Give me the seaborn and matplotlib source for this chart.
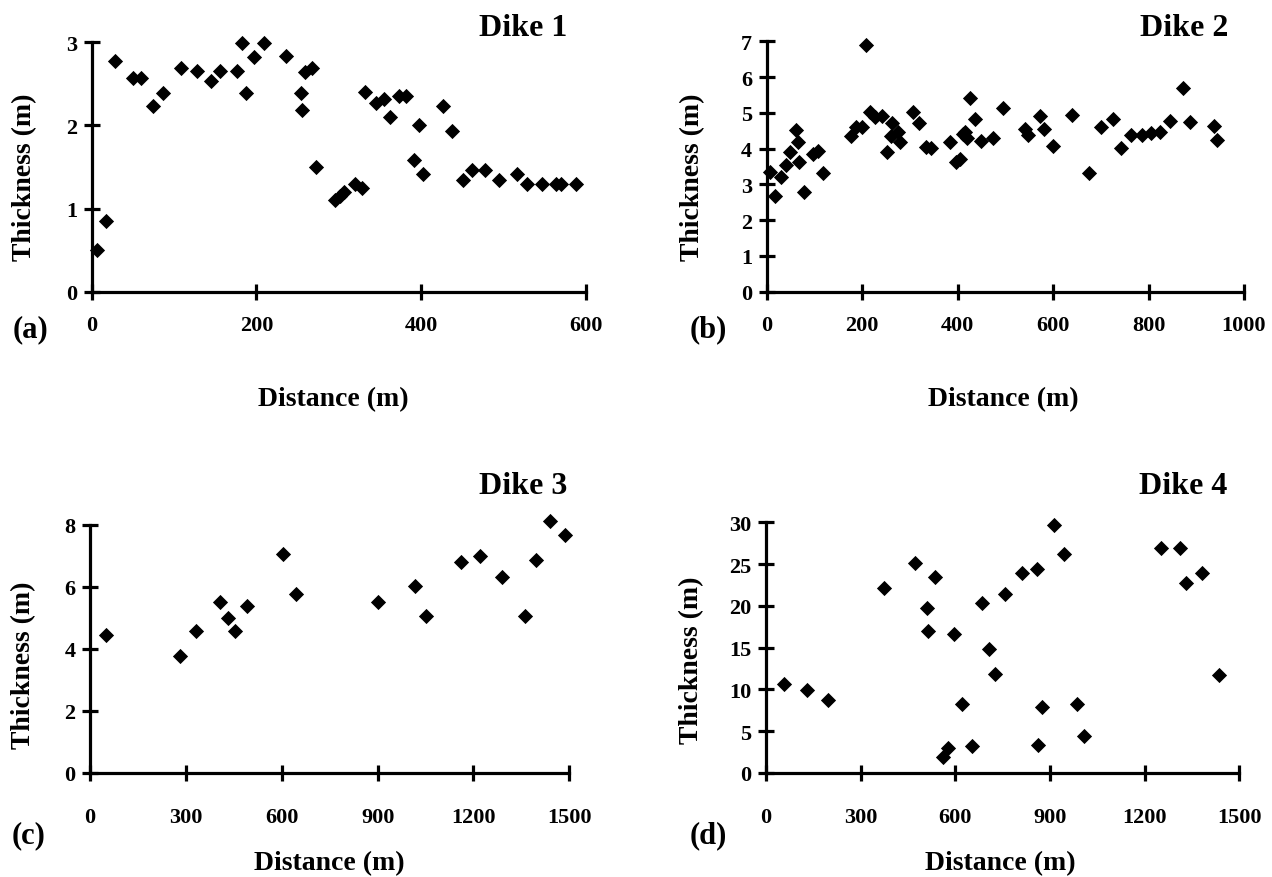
import matplotlib
matplotlib.use("Agg")
import matplotlib.pyplot as plt
import seaborn as sns
import pandas as pd

# ---------------- data ----------------
dike1_dist = [7, 18, 29, 50, 60, 75, 87, 109, 128, 145, 156, 177, 183, 187, 197, 209,
              236, 254, 256, 259, 267, 273, 296, 301, 306, 320, 328, 332, 345, 355,
              362, 373, 381, 391, 397, 402, 426, 437, 451, 462, 478, 494, 516, 528,
              547, 563, 570, 588]
dike1_thick = [0.50, 0.85, 2.78, 2.57, 2.57, 2.23, 2.39, 2.69, 2.65, 2.53, 2.65, 2.65,
               2.99, 2.39, 2.82, 2.99, 2.83, 2.39, 2.18, 2.64, 2.69, 1.50, 1.10, 1.15,
               1.20, 1.30, 1.25, 2.40, 2.27, 2.32, 2.10, 2.35, 2.35, 1.59, 2.01, 1.41,
               2.23, 1.93, 1.34, 1.46, 1.46, 1.34, 1.41, 1.29, 1.29, 1.29, 1.29, 1.29]

dike2_dist = [7, 17, 31, 40, 49, 61, 66, 68, 78, 96, 108, 117, 177, 187, 199, 207, 217,
              226, 241, 251, 260, 262, 276, 279, 307, 320, 334, 344, 384, 397, 405, 412,
              416, 419, 426, 437, 450, 475, 496, 541, 548, 573, 582, 599, 639, 676, 700,
              725, 742, 763, 786, 805, 823, 845, 872, 887, 937, 944]
dike2_thick = [3.35, 2.68, 3.20, 3.54, 3.91, 4.52, 4.18, 3.62, 2.80, 3.85, 3.94, 3.32,
               4.36, 4.60, 4.61, 6.90, 5.01, 4.87, 4.90, 3.91, 4.36, 4.73, 4.46, 4.18,
               5.01, 4.72, 4.04, 4.01, 4.18, 3.62, 3.70, 4.41, 4.46, 4.29, 5.42, 4.83,
               4.22, 4.29, 5.14, 4.55, 4.38, 4.90, 4.55, 4.08, 4.94, 3.32, 4.61, 4.83,
               4.02, 4.39, 4.39, 4.43, 4.47, 4.76, 5.69, 4.75, 4.62, 4.25]

dike3_dist = [50, 282, 332, 407, 431, 454, 490, 603, 645, 900, 1017, 1052, 1161, 1221,
              1289, 1362, 1396, 1440, 1487]
dike3_thick = [4.46, 3.78, 4.58, 5.52, 4.99, 4.56, 5.39, 7.06, 5.77, 5.50, 6.01, 5.07,
               6.81, 7.00, 6.30, 5.07, 6.87, 8.12, 7.68]

dike4_dist = [57, 129, 198, 374, 473, 509, 515, 536, 562, 578, 596, 622, 652, 684, 708,
              726, 758, 812, 858, 861, 874, 913, 945, 985, 1009, 1251, 1312, 1331, 1381,
              1436]
dike4_thick = [10.6, 9.9, 8.7, 22.1, 25.1, 19.7, 17.0, 23.4, 1.95, 2.96, 16.6, 8.3, 3.2,
               20.3, 14.8, 11.9, 21.4, 23.9, 24.4, 3.4, 7.9, 29.7, 26.2, 8.3, 4.4, 26.9,
               26.9, 22.7, 23.9, 11.7]

titles = ["Dike 1", "Dike 2", "Dike 3", "Dike 4"]
panel_tags = ["(a)", "(b)", "(c)", "(d)"]
x_ticks = [[0, 200, 400, 600], [0, 200, 400, 600, 800, 1000],
           [0, 300, 600, 900, 1200, 1500], [0, 300, 600, 900, 1200, 1500]]
y_ticks = [[0, 1, 2, 3], [0, 1, 2, 3, 4, 5, 6, 7], [0, 2, 4, 6, 8],
           [0, 5, 10, 15, 20, 25, 30]]
x_label = "Distance (m)"
y_label = "Thickness (m)"

# ---------------- style ----------------
sns.set_style("white")
plt.rcParams["font.family"] = ["Liberation Serif", "DejaVu Serif"]
plt.rcParams["font.weight"] = "bold"
plt.rcParams["axes.labelweight"] = "bold"
plt.rcParams["text.color"] = "black"
plt.rcParams["axes.labelcolor"] = "black"
plt.rcParams["xtick.color"] = "black"
plt.rcParams["ytick.color"] = "black"

W, H = 1272, 878
fig = plt.figure(figsize=(W / 100, H / 100), dpi=100)

# axes boxes in pixels: left, right, top, bottom
boxes = [(91.5, 586, 43.3, 292.7), (766.7, 1244, 42.3, 292.7),
         (90, 569.3, 525.7, 774), (766, 1239.3, 523.3, 774)]
data = [(dike1_dist, dike1_thick), (dike2_dist, dike2_thick),
        (dike3_dist, dike3_thick), (dike4_dist, dike4_thick)]
ylab_pos = [(25, 177), (693, 177), (24, 665), (692, 660)]
xlab_pos = [(333, 400), (1003, 400), (329, 864), (1000, 864)]
tag_pos = [(30, 330), (708, 330), (29, 836), (708, 836)]
title_pos = [(567, 36), (1228, 36), (567, 494), (1227, 494)]
xpads = [11, 11, 19, 19]

for i in range(4):
    l, r, t, b = boxes[i]
    ax = fig.add_axes([l / W, 1 - b / H, (r - l) / W, (b - t) / H])
    df = pd.DataFrame({"Distance": data[i][0], "Thickness": data[i][1]})
    sns.scatterplot(data=df, x="Distance", y="Thickness", ax=ax, marker="D",
                    s=60, color="black", edgecolor="black", linewidth=0,
                    clip_on=False, zorder=3)
    xt, yt = x_ticks[i], y_ticks[i]
    ax.set_xlim(xt[0], xt[-1])
    ax.set_ylim(yt[0], yt[-1])
    ax.set_xticks(xt)
    ax.set_yticks(yt)
    for s in ["top", "right"]:
        ax.spines[s].set_visible(False)
    for s in ["left", "bottom"]:
        ax.spines[s].set_linewidth(2.3)
        ax.spines[s].set_color("black")
    ax.tick_params(axis="both", direction="inout", length=11, width=2.3,
                   colors="black", labelsize=16, bottom=True, left=True)
    ax.tick_params(axis="x", pad=xpads[i])
    ax.tick_params(axis="y", pad=5)
    for lab in ax.get_xticklabels() + ax.get_yticklabels():
        lab.set_fontweight("bold")

    ax.set_xlabel(x_label, fontsize=20, fontweight="bold")
    ax.set_ylabel(y_label, fontsize=20, fontweight="bold")
    xl = ax.xaxis.label
    xl.set_va("center")
    ax.xaxis.set_label_coords((xlab_pos[i][0] - l) / (r - l), (b - xlab_pos[i][1]) / (b - t))
    yl = ax.yaxis.label
    yl.set_va("center")
    ax.yaxis.set_label_coords((ylab_pos[i][0] - l) / (r - l), (b - ylab_pos[i][1]) / (b - t))

    fig.text(title_pos[i][0] / W, 1 - title_pos[i][1] / H, titles[i], ha="right",
             va="baseline", fontsize=23, fontweight="bold")
    fig.text(tag_pos[i][0] / W, 1 - tag_pos[i][1] / H, panel_tags[i], ha="center",
             va="center", fontsize=22, fontweight="bold")

fig.savefig("out.png", dpi=100, facecolor="white")
